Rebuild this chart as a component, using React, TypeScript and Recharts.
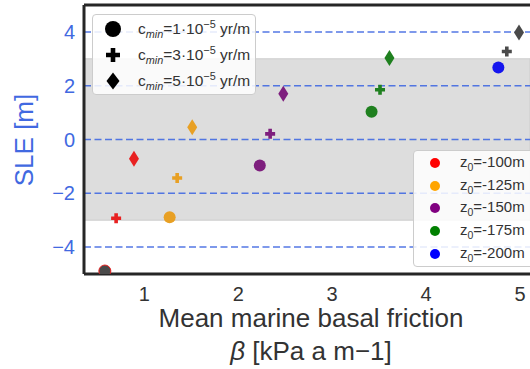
import React from "react";
import {
  ScatterChart,
  Scatter,
  XAxis,
  YAxis,
  ReferenceArea,
  ReferenceLine,
  Label,
} from "recharts";

// values
const markerKinds = ["circle", "plus", "diamond"];
const cminValues = ["1", "3", "5"];
const z0Labels = ["-100m", "-125m", "-150m", "-175m", "-200m"];

const betaZ100 = [0.58, 0.7, 0.89];
const sleZ100 = [-4.89, -2.93, -0.72];
const betaZ125 = [1.27, 1.35, 1.51];
const sleZ125 = [-2.89, -1.43, 0.46];
const betaZ150 = [2.23, 2.34, 2.48];
const sleZ150 = [-0.97, 0.21, 1.7];
const betaZ175 = [3.42, 3.51, 3.61];
const sleZ175 = [1.03, 1.85, 3.03];
const betaZ200 = [4.77, 4.86, 4.99];
const sleZ200 = [2.68, 3.27, 3.98];

const yTicks = [-4, -2, 0, 2, 4];
const xTicks = [1, 2, 3, 4, 5];
const bandLow = -3;
const bandHigh = 3;

// styling
const FONT = '"Liberation Sans", Arial, sans-serif';
const BLUE = "#4169e1";
const FRAME = "#262626";
const DARK = "#4a4a4a";
const legendColors = ["#ff0000", "#ffa500", "#800080", "#008000", "#0000ff"];
const pointColors = [
  [DARK, "#e82121", "#e82121"],
  ["#e8a024", "#e8a024", "#e8a024"],
  ["#7e1f7e", "#7e1f7e", "#7e1f7e"],
  ["#1f801f", "#1f801f", "#1f801f"],
  ["#1515ee", DARK, DARK],
];
const pointStrokes = [
  ["#e82121", "none", "none"],
  ["none", "none", "none"],
  ["none", "none", "none"],
  ["none", "none", "none"],
  ["none", "none", "none"],
];

const groups = [
  { beta: betaZ100, sle: sleZ100 },
  { beta: betaZ125, sle: sleZ125 },
  { beta: betaZ150, sle: sleZ150 },
  { beta: betaZ175, sle: sleZ175 },
  { beta: betaZ200, sle: sleZ200 },
];

const seriesData = groups.map((g, gi) =>
  g.beta.map((b, i) => ({ beta: b, sle: g.sle[i], kind: markerKinds[i], gi, i }))
);

function plusPath(cx: number, cy: number, a: number, t: number) {
  return `M${cx - a},${cy - t}H${cx - t}V${cy - a}H${cx + t}V${cy - t}H${cx + a}V${cy + t}H${cx + t}V${cy + a}H${cx - t}V${cy + t}H${cx - a}Z`;
}

function diamondPath(cx: number, cy: number, hw: number, hh: number) {
  return `M${cx},${cy - hh}L${cx + hw},${cy}L${cx},${cy + hh}L${cx - hw},${cy}Z`;
}

function PointShape(props: any) {
  const { cx, cy, payload } = props;
  const fill = pointColors[payload.gi][payload.i];
  const stroke = pointStrokes[payload.gi][payload.i];
  if (payload.kind === "circle") {
    return <circle cx={cx} cy={cy} r={6} fill={fill} stroke={stroke} strokeWidth={1} />;
  }
  if (payload.kind === "plus") {
    return <path d={plusPath(cx, cy, 5, 1.8)} fill={fill} />;
  }
  return <path d={diamondPath(cx, cy, 5, 8)} fill={fill} />;
}

function LegendMarker({ kind }: { kind: string }) {
  return (
    <svg width={20} height={20} style={{ position: "absolute", left: 10, top: 0 }}>
      {kind === "circle" && <circle cx={10} cy={10} r={8} fill="#000" />}
      {kind === "plus" && <path d={plusPath(10, 10, 7, 2.3)} fill="#000" />}
      {kind === "diamond" && <path d={diamondPath(10, 10, 6.5, 8.5)} fill="#000" />}
    </svg>
  );
}

function XLabel() {
  return (
    <g fontFamily={FONT} fontSize={26} fill="#333" textAnchor="middle">
      <text x={311} y={327}>Mean marine basal friction</text>
      <text x={311} y={360}>
        <tspan fontStyle="italic">β</tspan> [kPa a m−1]
      </text>
    </g>
  );
}

const sub = { fontSize: "0.7em", position: "relative" as const, top: 4 };
const sup = { fontSize: "0.7em", position: "relative" as const, top: -6 };

export default function App() {
  return (
    <div
      style={{
        position: "fixed",
        left: 0,
        top: 0,
        width: 530,
        height: 369,
        overflow: "hidden",
        background: "#fff",
        fontFamily: FONT,
      }}
    >
      <ScatterChart
        width={530}
        height={369}
        margin={{ top: 5, right: 0, bottom: 0, left: 0 }}
      >
        <XAxis
          type="number"
          dataKey="beta"
          domain={[0.358, 5.107]}
          ticks={xTicks}
          allowDataOverflow
          height={95}
          tickLine={false}
          tickSize={0}
          tickMargin={13}
          axisLine={{ stroke: FRAME, strokeWidth: 3 }}
          tick={{ fill: "#333", fontSize: 20, fontFamily: FONT }}
        >
          <Label content={() => <XLabel />} />
        </XAxis>
        <YAxis
          type="number"
          dataKey="sle"
          domain={[-5, 5]}
          ticks={yTicks}
          allowDataOverflow
          width={84}
          tickLine={false}
          tickSize={0}
          tickMargin={9}
          tickFormatter={(v: number) => String(v).replace("-", "−")}
          axisLine={{ stroke: FRAME, strokeWidth: 3 }}
          tick={{ fill: BLUE, fontSize: 20, fontFamily: FONT }}
        >
          <Label
            value="SLE [m]"
            content={(p: any) => (
              <text
                x={33}
                y={140}
                transform="rotate(-90 33 140)"
                textAnchor="middle"
                fontSize={26}
                fontFamily={FONT}
                fill={BLUE}
              >
                {p.value}
              </text>
            )}
          />
        </YAxis>
        <ReferenceArea
          y1={bandLow}
          y2={bandHigh}
          fill="#dddddd"
          fillOpacity={1}
          stroke="#cccccc"
          strokeWidth={1}
        />
        {yTicks.map((t) => (
          <ReferenceLine
            key={t}
            y={t}
            stroke={BLUE}
            strokeOpacity={0.9}
            strokeWidth={1.5}
            strokeDasharray="7 3.5"
          />
        ))}
        <ReferenceLine y={5} stroke={FRAME} strokeWidth={3} />
        {seriesData.map((d, gi) => (
          <Scatter
            key={gi}
            data={d}
            shape={PointShape}
            isAnimationActive={false}
          />
        ))}
      </ScatterChart>

      {/* marker-type legend */}
      <div
        style={{
          position: "absolute",
          left: 92,
          top: 14,
          width: 164,
          height: 81,
          border: "1.5px solid #cccccc",
          borderRadius: 4,
          background: "rgba(255,255,255,0.85)",
          boxSizing: "border-box",
        }}
      >
        {markerKinds.map((k, i) => (
          <div
            key={k}
            style={{ position: "absolute", left: 0, top: 4 + i * 26, width: 160, height: 20 }}
          >
            <LegendMarker kind={k} />
            <div
              style={{
                position: "absolute",
                left: 45,
                top: 1,
                fontSize: 15.5,
                lineHeight: "18px",
                color: "#333",
                whiteSpace: "nowrap",
              }}
            >
              c<span style={{ ...sub, fontStyle: "italic" }}>min</span>={cminValues[i]}·10
              <span style={sup}>−5</span> yr/m
            </div>
          </div>
        ))}
      </div>

      {/* depth legend */}
      <div
        style={{
          position: "absolute",
          left: 413,
          top: 150,
          width: 130,
          height: 117,
          border: "1.5px solid #cccccc",
          borderRadius: 4,
          background: "rgba(255,255,255,0.85)",
          boxSizing: "border-box",
        }}
      >
        {z0Labels.map((z, i) => (
          <div
            key={z}
            style={{ position: "absolute", left: 0, top: 2 + i * 22.7, width: 128, height: 20 }}
          >
            <svg width={12} height={12} style={{ position: "absolute", left: 15, top: 4 }}>
              <circle cx={6} cy={6} r={5} fill={legendColors[i]} />
            </svg>
            <div
              style={{
                position: "absolute",
                left: 46,
                top: 0,
                fontSize: 15,
                lineHeight: "18px",
                color: "#333",
                whiteSpace: "nowrap",
              }}
            >
              z<span style={sub}>0</span>={z}
            </div>
          </div>
        ))}
      </div>
    </div>
  );
}
